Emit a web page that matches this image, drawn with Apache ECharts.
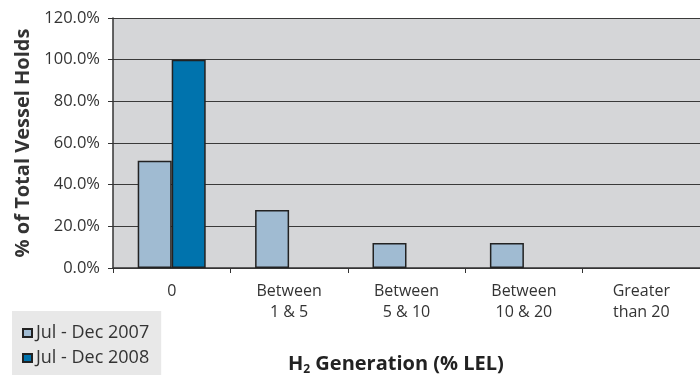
<!DOCTYPE html>
<html><head><meta charset="utf-8">
<script src="https://cdn.jsdelivr.net/npm/echarts@6/dist/echarts.min.js"></script>
<style>html,body{margin:0;padding:0;background:#fff}#c{width:700px;height:378px}</style>
</head><body><div id="c"></div>
<script>
var categories = ['0', 'Between\n1 & 5', 'Between\n5 & 10', 'Between\n10 & 20', 'Greater\nthan 20'];
var seriesNames = ['Jul - Dec 2007', 'Jul - Dec 2008'];
var values2007 = [51.5, 27.8, 12.0, 12.0, 0];
var values2008 = [100.0, 0, 0, 0, 0];
var yTicks = [0, 20, 40, 60, 80, 100, 120];
var yTitle = '% of Total Vessel Holds';

var chart = echarts.init(document.getElementById('c'), null, {renderer: 'canvas'});
var font = '"Open Sans", "Noto Sans", sans-serif';
function barData(arr) { return arr.map(function (v) { return v === 0 ? '-' : v; }); }
chart.setOption({
  animation: false,
  backgroundColor: '#ffffff',
  grid: {left: 113, top: 18, right: -4, bottom: 110, show: true, backgroundColor: '#d5d6d8', borderWidth: 0},
  xAxis: {
    type: 'category', data: categories,
    axisLine: {lineStyle: {color: '#333', width: 1.5}},
    axisTick: {show: true, length: 5, lineStyle: {color: '#333'}},
    axisLabel: {color: '#333', fontFamily: font, fontSize: 16, lineHeight: 21, margin: 13}
  },
  yAxis: {
    type: 'value', min: yTicks[0], max: yTicks[yTicks.length - 1], interval: 20,
    name: yTitle, nameLocation: 'middle', nameGap: 80,
    nameTextStyle: {fontFamily: font, fontWeight: 'bold', fontSize: 20, color: '#333'},
    axisLine: {show: true, lineStyle: {color: '#333', width: 1.5}},
    axisTick: {show: true, length: 5, lineStyle: {color: '#333'}},
    axisLabel: {color: '#333', fontFamily: font, fontSize: 16.5, margin: 13,
      formatter: function (v) { return v.toFixed(1) + '%'; }},
    splitLine: {lineStyle: {color: '#3a3a3a', width: 1.2}}
  },
  legend: {
    orient: 'vertical', left: 12, top: 311, padding: [12, 12, 7, 10], itemGap: 5,
    backgroundColor: '#e8e8e8', itemWidth: 9, itemHeight: 8, icon: 'rect',
    textStyle: {fontFamily: font, fontSize: 18, color: '#333', padding: [0, 0, 0, -1], lineHeight: 20},
    data: seriesNames
  },
  graphic: [{
    type: 'text', left: 288, top: 352,
    style: {
      text: '{b|H}{s|2}{b| Generation (% LEL)}',
      rich: {
        b: {fontFamily: font, fontWeight: 'bold', fontSize: 20, fill: '#222', lineHeight: 22},
        s: {fontFamily: font, fontWeight: 'bold', fontSize: 12, fill: '#222', lineHeight: 22, padding: [12, 0, 0, 0]}
      }
    }
  }],
  series: [
    {name: seriesNames[0], type: 'bar', data: barData(values2007), barWidth: 34, barGap: '0%',
      itemStyle: {color: '#a0bbd2', borderColor: '#222', borderWidth: 1.5}},
    {name: seriesNames[1], type: 'bar', data: barData(values2008), barWidth: 34, barGap: '0%',
      itemStyle: {color: '#0073ad', borderColor: '#222', borderWidth: 1.5}}
  ]
});
</script></body></html>
